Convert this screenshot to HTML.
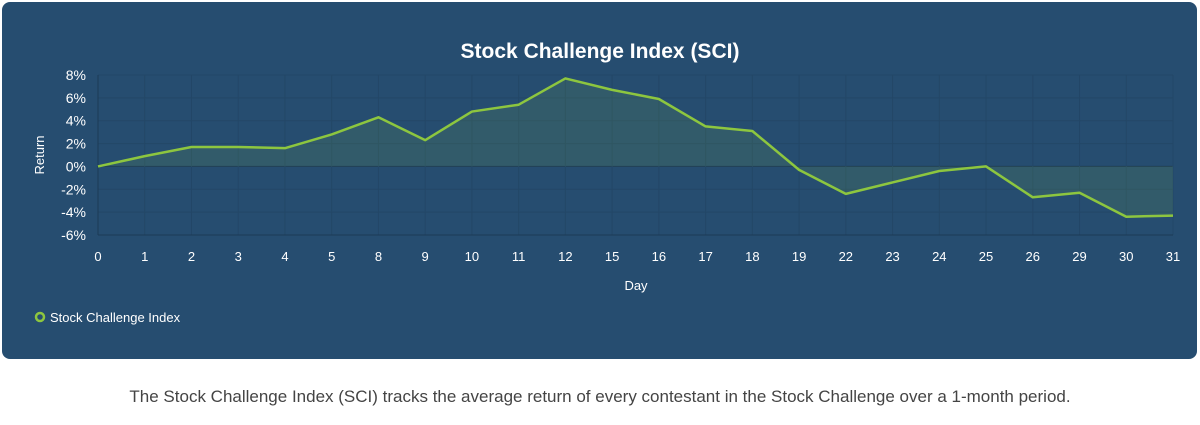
<!DOCTYPE html>
<html><head><meta charset="utf-8"><style>
body{margin:0;width:1200px;height:425px;background:#fff;font-family:"Liberation Sans",sans-serif;overflow:hidden}
#panel{position:absolute;left:2px;top:2px;width:1195px;height:357px;background:#264d70;border-radius:8px}
#caption{position:absolute;left:0;width:1200px;top:387px;text-align:center;font-size:17px;color:#444}
svg{position:absolute;left:0;top:0}
</style></head><body>
<div id="panel"></div>
<svg id="chart" width="1200" height="360"></svg>
<div id="caption">The Stock Challenge Index (SCI) tracks the average return of every contestant in the Stock Challenge over a 1-month period.</div>
<script>
const days=[0,1,2,3,4,5,8,9,10,11,12,15,16,17,18,19,22,23,24,25,26,29,30,31];
const returns=[0,0.9,1.7,1.7,1.6,2.8,4.3,2.3,4.8,5.4,7.7,6.7,5.9,3.5,3.1,-0.3,-2.4,-1.4,-0.4,0,-2.7,-2.3,-4.4,-4.3];
const yTicks=[8,6,4,2,0,-2,-4,-6];
const NS="http://www.w3.org/2000/svg";
const svg=document.getElementById('chart');
const X0=98,X1=1173,Y0=75,Y1=235,YMAX=8,YMIN=-6;
const xs=i=>X0+i*(X1-X0)/(days.length-1);
const ys=v=>Y0+(YMAX-v)/(YMAX-YMIN)*(Y1-Y0);
function mk(t,a,txt){const e=document.createElementNS(NS,t);for(const k in a)e.setAttribute(k,a[k]);if(txt!=null)e.textContent=txt;svg.appendChild(e);return e;}
let e=mk('text',{x:600,y:58,'text-anchor':'middle','font-size':21,'font-weight':'bold',fill:'#fff'},'Stock Challenge Index (SCI)');

yTicks.forEach(v=>{
 const g=mk('line',{x1:X0,x2:X1,y1:ys(v),y2:ys(v),stroke:v===0?'#1c3a56':'#234767','stroke-width':1});
 
 const t=mk('text',{x:86,y:ys(v)+5,'text-anchor':'end','font-size':14,fill:'#fff'},v+'%');
 
});
days.forEach((d,i)=>{
 const g=mk('line',{x1:xs(i),x2:xs(i),y1:Y0,y2:Y1,stroke:'#234767','stroke-width':1});
 
 const t=mk('text',{x:xs(i),y:261,'text-anchor':'middle','font-size':13,fill:'#fff'},String(d));
 
});
e=mk('line',{x1:X0,x2:X0,y1:Y0,y2:Y1,stroke:'#1c3a56'});

e=mk('line',{x1:X0,x2:X1,y1:Y1,y2:Y1,stroke:'#1c3a56'});

let pts=returns.map((v,i)=>xs(i)+','+ys(v)).join(' ');
e=mk('polygon',{points:xs(0)+','+ys(0)+' '+pts+' '+xs(returns.length-1)+','+ys(0),fill:'#8dc63f','fill-opacity':0.12});

e=mk('polyline',{points:pts,fill:'none',stroke:'#8dc63f','stroke-width':2.5,'stroke-linejoin':'round'});

e=mk('text',{x:0,y:0,transform:'translate(44,155) rotate(-90)','text-anchor':'middle','font-size':13,fill:'#fff'},'Return');

e=mk('text',{x:636,y:290,'text-anchor':'middle','font-size':13,fill:'#fff'},'Day');

e=mk('circle',{cx:40,cy:317,r:4,fill:'none',stroke:'#8dc63f','stroke-width':2.5});

e=mk('text',{x:50,y:322,'font-size':13,fill:'#fff'},'Stock Challenge Index');

</script>
</body></html>
